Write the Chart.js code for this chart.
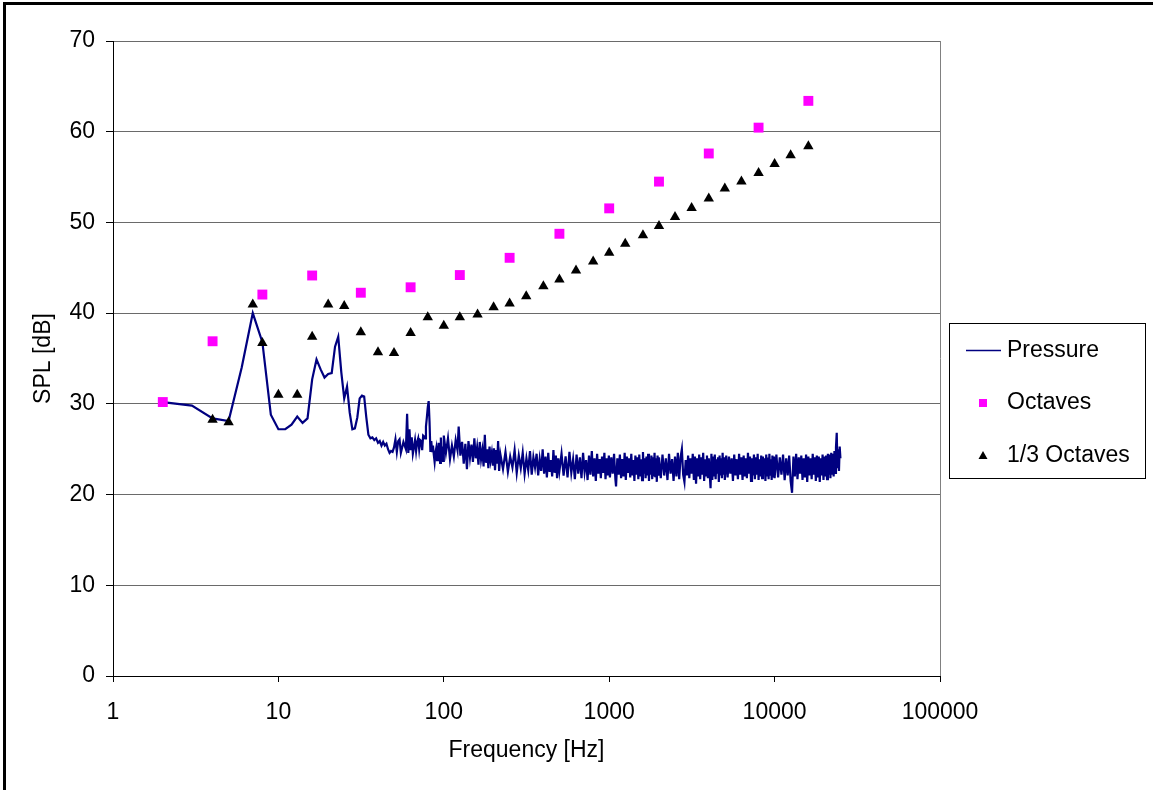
<!DOCTYPE html>
<html>
<head>
<meta charset="utf-8">
<script src="https://cdn.jsdelivr.net/npm/chart.js@4/dist/chart.umd.min.js"></script>
<style>
  body { margin: 0; background: #fff; }
  canvas { display: block; }
</style>
</head>
<body>
<canvas id="c" width="1153" height="790"></canvas>
<script>
// axis ticks
var xTicks = [1, 10, 100, 1000, 10000, 100000];
var yTicks = [0, 10, 20, 30, 40, 50, 60, 70];

// octave bands
var octaveFreq = [2, 4, 8, 16, 31.5, 63, 125, 250, 500, 1000, 2000, 4000, 8000, 16000];
var octaveDb = [30.2, 36.9, 42.05, 44.15, 42.25, 42.85, 44.2, 46.1, 48.75, 51.55, 54.5, 57.6, 60.45, 63.4];

// 1/3 octave bands
var thirdFreq = [4, 5, 7, 8, 10, 13, 16, 20, 25, 31.5, 40, 50, 63, 80, 100, 125, 160, 200, 250, 315, 400, 500,
  630, 800, 1000, 1250, 1600, 2000, 2500, 3150, 4000, 5000, 6300, 8000, 10000, 12500, 16000];
var thirdDb = [28.26, 27.96, 40.95, 36.7, 31.0, 31.0, 37.4, 40.95, 40.8, 37.9, 35.7, 35.6, 37.8, 39.55, 38.6, 39.55,
  39.85, 40.65, 41.06, 41.87, 42.97, 43.7, 44.7, 45.7, 46.65, 47.65, 48.6, 49.6, 50.6, 51.6, 52.65, 53.75,
  54.5, 55.45, 56.45, 57.4, 58.4];

// pressure spectrum [Hz, dB]
var pressure = [
  [2,30.2],[3,29.8],[4,28.4],[5,28.1],[6,34.0],[7,40.0],[8,36.8],[9,28.8],[10,27.2],[11,27.2],[12,27.7],
  [13,28.6],[14,27.9],[15,28.4],[16,32.7],[17,34.9],[18,33.8],[19,32.9],[20,33.3],[21,33.4],[22,36.3],
  [23,37.4],[24,33.5],[25,30.6],[26,31.9],[27,29.0],[28,27.2],[29,27.3],[30,28.5],[31,30.6],[32,30.9],
  [33,30.8],[34,28.5],[35,26.6],[36,26.2],[37,26.3],[38,26.0],[39,26.2],[40,25.7],[41,25.9],[42,25.4],
  [43,25.8],[44,25.4],[45,25.6],[46,25.0],[47,24.6],[48,24.8],[49,24.7],[50,25.2],[51,26.1],[52,24.7],
  [53,25.9],[54,26.1],[55,24.6],[56,25.2],[57,25.8],[59,25.0],[60,28.9],[61,24.6],[62,27.2],[63,24.9],
  [64,26.3],[65,24.5],[66,25.2],[67,26.0],[68,24.8],[69,25.8],[70,26.2],[71,25.0],[72,26.0],[73,25.9],
  [74,24.9],[75,26.5],[76,26.4],[77,26.2],[78,27.5],[79,28.5],[80,29.6],[81,30.3],[82,28.0],[83,24.7],
  [84,25.9],[85,24.8],[86,25.4],[87,24.4],[88,23.6],[89,24.6],[90,25.1],[91,23.8],[92,24.5],[93,25.7],
  [94,24.8],[95,23.5],[96,26.3],[97,24.0],[98,25.3],[99,23.7],[100,26.5],
  [103,24.6],[106,26.2],[109,23.9],[112,25.4],[115,24.2],[118,26.0],[121,24.9],[123,27.5],[126,24.3],
  [129,25.8],[132,23.4],[135,25.6],[138,22.8],[141,25.9],[144,24.1],[147,25.5],[150,23.6],[153,26.2],
  [156,24.0],[159,25.2],[162,23.3],[165,25.8],[168,23.9],[171,24.9],[174,23.1],[177,26.6],[180,23.5],
  [183,25.0],[186,22.9],[189,25.3],[192,23.8],[195,24.6],[198,23.2],[201,25.1],[204,22.7],[207,24.9],
  [210,23.4],[213,25.9],[216,22.6],
  [220,24.4],[228,22.8],[236,24.7],[244,22.5],[252,24.2],[260,23.0],[268,24.9],[276,22.4],[284,24.3],
  [292,22.9],[300,24.6],[308,22.3],[316,24.0],[324,22.7],[332,24.8],[340,22.2],[348,24.1],[356,23.0],
  [364,24.5],[372,22.1],[380,23.9],[388,22.6],[396,25.0],[404,22.3],[412,24.2],[420,21.9],[428,24.6],
  [436,22.5],[444,23.8],[452,22.0],[460,24.9],[468,22.4],[476,24.3],[484,21.8],[492,24.0],[500,22.6],
  [515,24.5],[530,22.1],[545,24.2],[560,21.9],[575,24.7],[590,22.4],[605,23.9],[620,21.7],[635,24.4],
  [650,22.3],[665,24.1],[680,21.8],[695,24.6],[710,22.5],[725,23.8],[740,21.6],[755,24.3],[770,22.2],
  [785,24.8],[800,22.0],[815,24.0],[830,21.5],[845,24.5],[860,22.3],[875,23.9],[890,21.8],[905,24.2],
  [920,22.4],[935,24.6],[950,21.7],[965,24.0],[980,22.1],[995,24.3],
  [1010,21.9],[1030,24.1],[1050,22.3],[1070,24.5],[1090,21.7],[1100,20.9],[1120,24.0],[1140,22.2],
  [1160,24.4],[1180,21.8],[1200,23.9],[1220,22.0],[1240,24.6],[1260,21.6],[1280,24.2],[1300,22.4],
  [1320,24.0],[1340,21.9],[1360,24.5],[1380,22.1],[1400,23.8],[1420,21.5],[1440,24.3],[1460,22.2],
  [1480,24.1],[1500,21.7],[1520,24.4],[1540,22.0],[1560,23.9],[1580,21.6],[1600,24.7],[1620,22.3],
  [1640,24.0],[1660,21.8],[1680,24.2],[1700,22.1],[1720,24.5],[1740,21.5],[1760,23.9],[1780,22.2],
  [1800,24.3],[1820,21.7],[1840,24.1],[1860,22.0],[1880,24.6],[1900,21.9],[1920,24.0],[1940,21.4],
  [1960,24.3],[1980,22.2],[2000,24.1],
  [2050,21.8],[2100,24.4],[2150,22.1],[2200,24.0],[2250,21.6],[2300,24.5],[2350,22.3],[2400,23.9],
  [2450,21.5],[2500,24.2],[2550,22.0],[2600,24.6],[2650,21.7],[2700,24.1],[2750,25.0],[2800,22.2],
  [2850,21.4],[2900,23.8],[2950,22.1],[3000,24.3],[3050,21.8],[3100,24.0],[3150,22.3],[3200,24.5],
  [3250,21.6],[3300,24.2],[3350,21.2],[3400,24.0],[3450,22.0],[3500,24.4],[3550,21.7],[3600,24.1],
  [3650,22.2],[3700,24.6],[3750,21.5],[3800,23.9],[3850,22.1],[3900,24.3],[3950,21.8],[4000,24.0],
  [4050,22.4],[4100,20.7],[4150,24.5],[4200,21.6],[4250,24.2],[4300,22.0],[4350,24.4],[4400,21.7],
  [4450,23.9],[4500,22.3],[4550,24.1],[4600,21.4],[4650,24.3],[4700,22.1],[4750,24.0],[4800,21.8],
  [4850,24.6],[4900,22.2],[4950,24.1],[5000,21.6],
  [5100,24.3],[5200,21.9],[5300,24.2],[5400,22.3],[5500,24.0],[5600,21.5],[5700,24.4],[5800,22.1],
  [5900,23.9],[6000,21.7],[6100,24.5],[6200,22.2],[6300,24.1],[6400,21.6],[6500,24.3],[6600,22.0],
  [6700,24.0],[6800,21.8],[6900,24.6],[7000,22.3],[7100,24.2],[7200,21.5],[7300,24.0],[7400,22.1],
  [7500,24.4],[7600,21.7],[7700,24.1],[7800,22.2],[7900,24.5],[8000,21.6],[8100,23.9],[8200,22.0],
  [8300,24.3],[8400,21.8],[8500,24.2],[8600,22.3],[8700,24.0],[8800,21.5],[8900,24.4],[9000,22.1],
  [9100,24.1],[9200,21.7],[9300,24.5],[9400,22.2],[9500,23.9],[9600,21.6],[9700,24.3],[9800,22.0],
  [9900,24.2],[10000,21.8],
  [10250,24.4],[10500,21.9],[10750,24.1],[11000,22.2],[11250,24.4],[11500,21.6],[11750,24.0],
  [12000,22.1],[12250,24.3],[12500,21.5],[12750,20.2],[13000,24.2],[13250,22.0],[13500,24.5],
  [13750,21.7],[14000,24.1],[14250,22.3],[14500,24.3],[14750,21.6],[15000,24.0],[15250,21.9],
  [15500,24.4],[15750,21.4],[16000,24.2],[16250,22.1],[16500,24.0],[16750,21.7],[17000,24.5],
  [17250,22.2],[17500,24.1],[17750,21.5],[18000,24.3],[18250,21.9],[18500,24.2],[18750,21.4],
  [19000,24.0],[19250,22.1],[19500,24.4],[19750,21.6],[20000,24.2],[20250,22.0],[20500,24.3],
  [20750,21.7],[21000,24.5],[21250,22.2],[21500,24.4],[21750,21.8],[22000,24.6],[22250,22.3],
  [22500,24.5],[22750,22.0],[23000,24.8],[23250,22.4],[23500,25.2],[23750,26.8],[24000,22.9],
  [24250,25.0],[24500,22.6],[24750,25.3],[25000,24.0]
];

var FONT = "'Liberation Sans', Arial, sans-serif";

function toPoints(xs, ys) {
  var out = [];
  for (let i = 0; i < xs.length; i++) out.push({ x: xs[i], y: ys[i] });
  return out;
}

// frame lines on the left/top, right edge of the plot and the legend box
var decor = {
  id: "decor",
  beforeDraw: function (chart) {
    var ctx = chart.ctx;
    ctx.save();
    ctx.fillStyle = "#fff";
    ctx.fillRect(0, 0, chart.width, chart.height);
    ctx.fillStyle = "#000";
    ctx.fillRect(3, 2, 3, chart.height);
    ctx.fillRect(3, 2, chart.width, 3);
    ctx.restore();
  },
  afterDraw: function (chart) {
    var ctx = chart.ctx;
    var a = chart.chartArea;
    ctx.save();
    ctx.strokeStyle = "#808080";
    ctx.lineWidth = 1;
    ctx.beginPath();
    ctx.moveTo(a.right + 0.5, a.top);
    ctx.lineTo(a.right + 0.5, a.bottom);
    ctx.stroke();

    ctx.strokeStyle = "#000";
    ctx.strokeRect(949.5, 323.5, 196, 155);
    ctx.font = "23px " + FONT;
    ctx.textBaseline = "middle";
    ctx.fillStyle = "#000";

    var ds = chart.data.datasets;
    ctx.strokeStyle = ds[0].borderColor;
    ctx.lineWidth = 1.6;
    ctx.beginPath();
    ctx.moveTo(966, 350.5);
    ctx.lineTo(1001, 350.5);
    ctx.stroke();
    ctx.fillText(ds[0].label, 1007, 351);

    ctx.fillStyle = ds[1].backgroundColor;
    ctx.fillRect(979, 399, 8, 8);
    ctx.fillStyle = "#000";
    ctx.fillText(ds[1].label, 1007, 403);

    ctx.fillStyle = ds[2].backgroundColor;
    ctx.beginPath();
    ctx.moveTo(983, 451);
    ctx.lineTo(987.5, 459);
    ctx.lineTo(978.5, 459);
    ctx.closePath();
    ctx.fill();
    ctx.fillStyle = "#000";
    ctx.fillText(ds[2].label, 1007, 456);
    ctx.restore();
  },
};

var ctx = document.getElementById("c").getContext("2d");
var myChart = new Chart(ctx, {
  type: "scatter",
  data: {
    datasets: [
      {
        label: "Pressure",
        data: pressure.map(function (p) { return { x: p[0], y: p[1] }; }),
        showLine: true,
        borderColor: "#000080",
        backgroundColor: "#000080",
        borderWidth: 2.2,
        pointRadius: 0,
        tension: 0,
        order: 3,
      },
      {
        label: "Octaves",
        data: toPoints(octaveFreq, octaveDb),
        pointStyle: "rect",
        pointRadius: 7,
        borderWidth: 0,
        backgroundColor: "#ff00ff",
        borderColor: "#ff00ff",
        order: 2,
      },
      {
        label: "1/3 Octaves",
        data: toPoints(thirdFreq, thirdDb),
        pointStyle: "triangle",
        pointRadius: 6,
        borderWidth: 0,
        backgroundColor: "#000",
        borderColor: "#000",
        order: 1,
      },
    ],
  },
  options: {
    responsive: false,
    animation: false,
    events: [],
    layout: { padding: { left: 0, top: 41, right: 213, bottom: 0 } },
    plugins: {
      legend: { display: false },
      tooltip: { enabled: false },
    },
    scales: {
      x: {
        type: "logarithmic",
        min: xTicks[0],
        max: xTicks[xTicks.length - 1],
        afterFit: function (s) { s.height = 114; },
        afterBuildTicks: function (s) {
          s.ticks = xTicks.map(function (v) { return { value: v }; });
        },
        grid: {
          drawOnChartArea: false,
          drawTicks: true,
          tickLength: 6,
          tickColor: "#000",
        },
        border: { color: "#000", width: 1 },
        ticks: {
          autoSkip: false,
          maxRotation: 0,
          padding: 17,
          color: "#000",
          font: { family: FONT, size: 23 },
          callback: function (v) { return String(v); },
        },
        title: {
          display: true,
          text: "Frequency [Hz]",
          color: "#000",
          font: { family: FONT, size: 23 },
          padding: { top: 0, bottom: 26 },
        },
      },
      y: {
        min: yTicks[0],
        max: yTicks[yTicks.length - 1],
        afterFit: function (s) { s.width = 113; },
        afterBuildTicks: function (s) {
          s.ticks = yTicks.map(function (v) { return { value: v }; });
        },
        grid: {
          color: "#6a6a6a",
          lineWidth: 1,
          drawTicks: true,
          tickLength: 7,
          tickColor: "#000",
        },
        border: { color: "#000", width: 1 },
        ticks: {
          padding: 11,
          color: "#000",
          font: { family: FONT, size: 23 },
        },
        title: {
          display: true,
          text: "SPL [dB]",
          color: "#000",
          font: { family: FONT, size: 23 },
          padding: { top: 30, bottom: 0 },
        },
      },
    },
  },
  plugins: [decor],
});
</script>
</body>
</html>
